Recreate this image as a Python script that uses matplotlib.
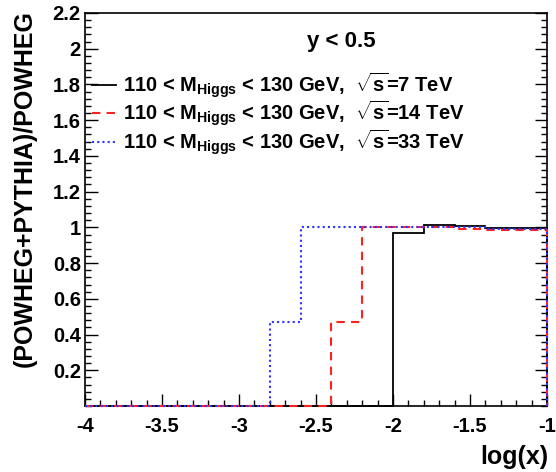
import numpy as np
import matplotlib
matplotlib.use("Agg")
import matplotlib.pyplot as plt
from matplotlib.ticker import MultipleLocator, FixedLocator
from matplotlib.lines import Line2D

plt.rcParams['font.family'] = ['Liberation Sans', 'DejaVu Sans']
plt.rcParams['font.weight'] = 'bold'
plt.rcParams['mathtext.fontset'] = 'custom'
plt.rcParams['mathtext.rm'] = 'Liberation Sans:bold'
plt.rcParams['mathtext.it'] = 'Liberation Sans:bold'
plt.rcParams['mathtext.bf'] = 'Liberation Sans:bold'

# data
bin_edges = np.round(np.arange(-4.0, -1.0 + 1e-9, 0.2), 2)
ratio_7tev = [0, 0, 0, 0, 0, 0, 0, 0, 0, 0, 0.97, 1.015, 1.005, 0.995, 0.995]
ratio_14tev = [0, 0, 0, 0, 0, 0, 0, 0, 0.47, 1.0, 1.0, 1.0, 0.99, 0.985, 0.985]
ratio_33tev = [0, 0, 0, 0, 0, 0, 0.47, 1.0, 1.0, 1.0, 1.0, 1.0, 1.0, 0.99, 0.99]
legend_labels = [
    r"110 < M$_{\mathrm{Higgs}}$ < 130 GeV,  $\sqrt{\mathrm{s}}$=7 TeV",
    r"110 < M$_{\mathrm{Higgs}}$ < 130 GeV,  $\sqrt{\mathrm{s}}$=14 TeV",
    r"110 < M$_{\mathrm{Higgs}}$ < 130 GeV,  $\sqrt{\mathrm{s}}$=33 TeV",
]
y_ticks = [0.2, 0.4, 0.6, 0.8, 1.0, 1.2, 1.4, 1.6, 1.8, 2.0, 2.2]
y_tick_labels = ["0.2", "0.4", "0.6", "0.8", "1", "1.2", "1.4", "1.6", "1.8", "2", "2.2"]
x_ticks = [-4, -3.5, -3, -2.5, -2, -1.5, -1]
x_tick_labels = ["-4", "-3.5", "-3", "-2.5", "-2", "-1.5", "-1"]

fig = plt.figure(figsize=(5.56, 4.72), dpi=100)
ax = fig.add_axes([85/556, 1-406/472, 462/556, 393/472])

styles = [dict(color='black', lw=1.3, linestyle='-'),
          dict(color='#ff2020', lw=1.5, linestyle=(0, (4, 3))),
          dict(color='#3030ff', lw=1.5, linestyle=(0, (1, 1.5)))]

for vals, st in zip([ratio_7tev, ratio_14tev, ratio_33tev], styles):
    ax.stairs(vals, bin_edges, clip_on=False, zorder=3, **st)

ax.set_xlim(-4, -1)
ax.set_ylim(0, 2.2)

ax.xaxis.set_major_locator(FixedLocator(x_ticks))
ax.set_xticklabels(x_tick_labels)
ax.xaxis.set_minor_locator(MultipleLocator(0.1))
ax.yaxis.set_major_locator(FixedLocator(y_ticks))
ax.set_yticklabels(y_tick_labels)
ax.yaxis.set_minor_locator(MultipleLocator(0.04))

ax.tick_params(which='both', direction='in', right=True, top=False, width=1.0)
ax.tick_params(which='major', length=9, labelsize=14.5)
ax.tick_params(which='minor', length=4)
ax.tick_params(axis='x', which='major', pad=8)
ax.tick_params(axis='y', which='major', pad=3)
for lab in ax.get_xticklabels() + ax.get_yticklabels():
    lab.set_fontweight('bold')
for s in ax.spines.values():
    s.set_linewidth(1.2)
    s.set_zorder(2)

fig.text(25/556, 1-189/472, "(POWHEG+PYTHIA)/POWHEG", rotation=90, ha='center', va='center',
         fontsize=18, fontweight='bold')
fig.text(548/556, 1-457/472, "log(x)", ha='right', va='center', fontsize=18, fontweight='bold')

fig.text(341/556, 1-42/472, "y < 0.5", ha='center', va='center',
         fontsize=16, fontweight='bold')

rows_y = [85, 113, 142]
for lbl, st, yy in zip(legend_labels, styles, rows_y):
    yf = 1 - yy/472
    fig.add_artist(Line2D([92/556, 116/556], [yf, yf], transform=fig.transFigure, **st))
    fig.text(123/556, yf, lbl, ha='left', va='center', fontsize=14.5, fontweight='bold')

fig.savefig("out.png", dpi=100)
